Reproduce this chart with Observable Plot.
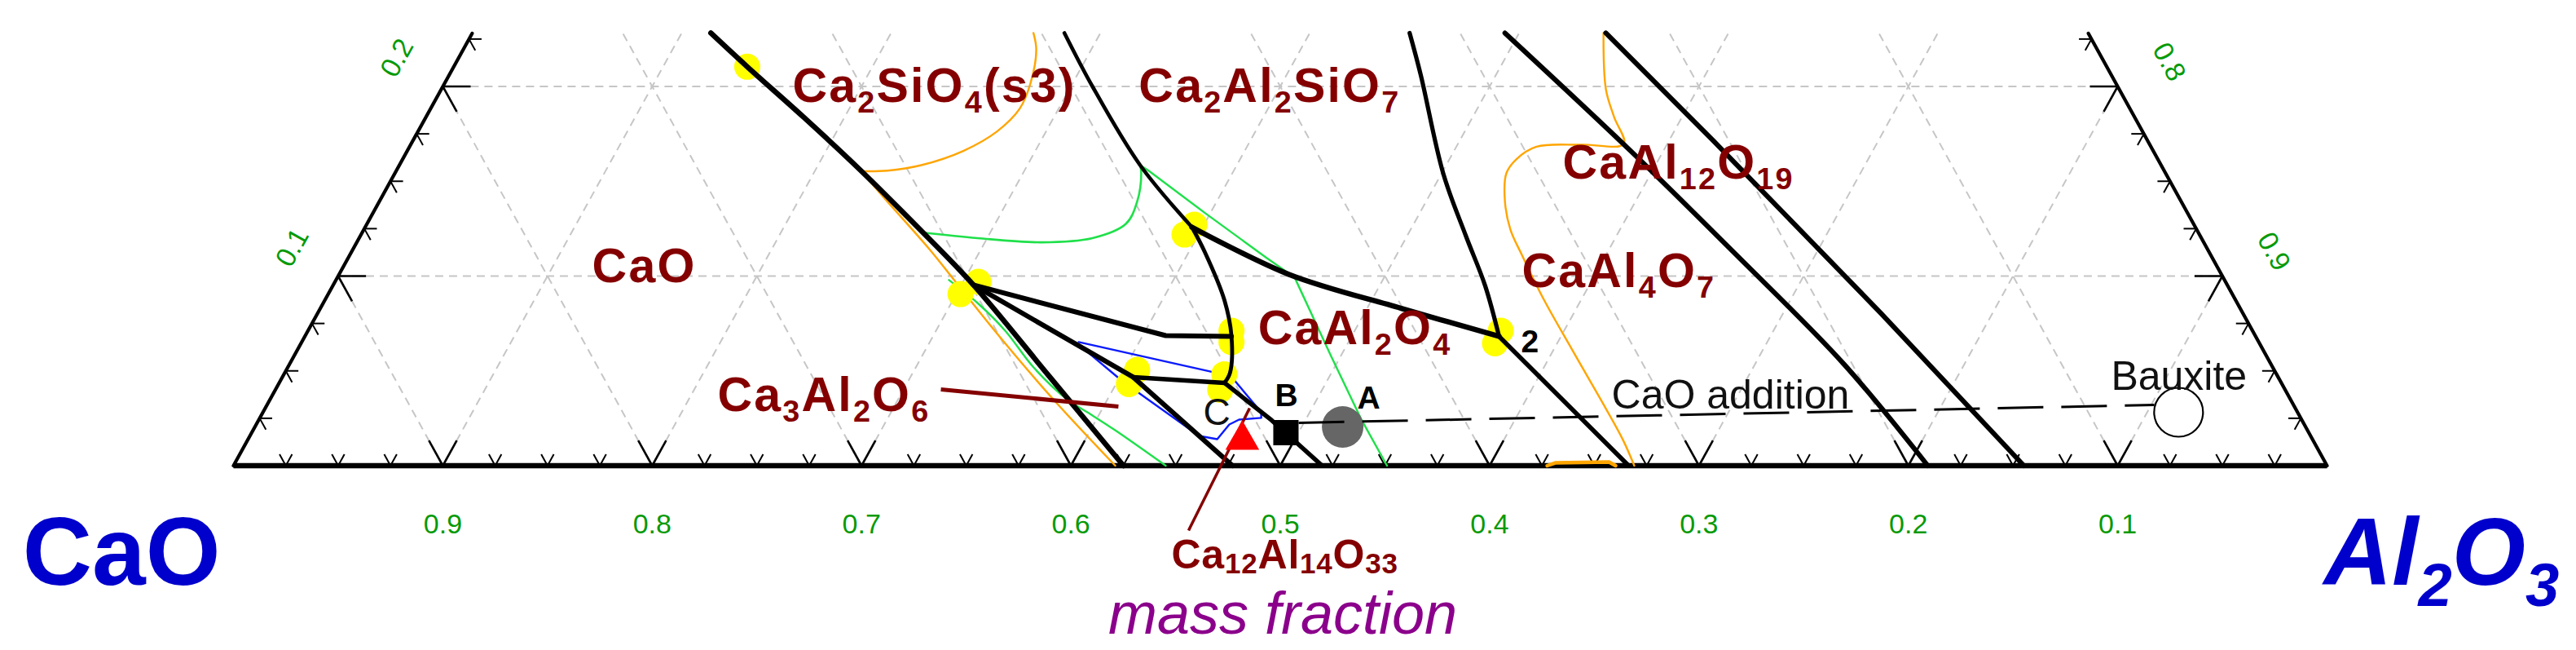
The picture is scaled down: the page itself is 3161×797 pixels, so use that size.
<!DOCTYPE html>
<html><head><meta charset="utf-8">
<script src="https://cdn.jsdelivr.net/npm/d3@7"></script>
<script src="https://cdn.jsdelivr.net/npm/@observablehq/plot@0.6"></script>
<style>html,body{margin:0;padding:0;background:#fff;} svg{display:block}</style>
</head><body><div id="chart"></div>
<script>
// ===== DATA: ternary points as [Al2O3, SiO2] mass fractions (CaO = 1 - Al2O3 - SiO2) =====
const sTop = 0.228;                       // SiO2 cut-off of the displayed window
const gridLevels = [0.1,0.2,0.3,0.4,0.5,0.6,0.7,0.8,0.9];
const bottomTickLabels = ["0.9","0.8","0.7","0.6","0.5","0.4","0.3","0.2","0.1"]; // CaO
const leftTickLabels = ["0.1","0.2"];     // SiO2
const rightTickLabels = ["0.9","0.8"];    // Al2O3

// thick phase boundaries
const bCaO_Ca2SiO4 = [[0.1139,0.2282],[0.1402,0.2104],[0.1806,0.1837],[0.2219,0.1556],[0.2636,0.1260],[0.3058,0.0953],[0.3654,0.0477],[0.4251,0]];
const bUpperCA = [[0.3058,0.0953],[0.4110,0.0686],[0.4426,0.0682]];
const bMidC3A = [[0.3058,0.0953],[0.4064,0.0467],[0.4772,0]];
const bGehlenite = [[0.2828,0.2282],[0.3103,0.2000],[0.3538,0.1585],[0.3949,0.1258]];
const bCA_curve = [[0.3949,0.1258],[0.4076,0.1127],[0.4296,0.0874],[0.4426,0.0682],[0.4515,0.0490],[0.4515,0.0437]];
const bCA_CA2 = [[0.3949,0.1258],[0.4537,0.1009],[0.5163,0.0830],[0.5704,0.0682]];
const bC12A7 = [[0.4064,0.0467],[0.4515,0.0437]];
const bC12A7low = [[0.4515,0.0437],[0.4840,0.0239],[0.5200,0]];
const bCA2low = [[0.5704,0.0682],[0.6664,0]];
const bCA2up = [[0.4477,0.2282],[0.4642,0.2059],[0.5008,0.1541],[0.5278,0.1215],[0.5505,0.0948],[0.5704,0.0682]];
const bCA6 = [[0.4932,0.2282],[0.5841,0.1662],[0.6622,0.1112],[0.7424,0.0536],[0.8093,0]];
const bAl2O3 = [[0.5414,0.2282],[0.6206,0.1718],[0.7470,0.0802],[0.8552,0]];

// thin isotherms
const orange1 = [[0.2680,0.2282],[0.2738,0.2193],[0.2799,0.2015],[0.2814,0.1882],[0.2766,0.1763],[0.2656,0.1660],[0.2493,0.1585],[0.2346,0.1556],[0.2221,0.1553]];
const orange2 = [[0.2221,0.1553],[0.2406,0.1409],[0.2753,0.1142],[0.2964,0.0970],[0.3280,0.0712],[0.3729,0.0359],[0.4212,0]];
const orange3 = [[0.5403,0.2282],[0.5563,0.1985],[0.5675,0.1839],[0.5792,0.1697],[0.5592,0.1693],[0.5383,0.1682],[0.5319,0.1615],[0.5309,0.1542],[0.5375,0.1396],[0.5477,0.1245],[0.5598,0.1112],[0.5822,0.0875],[0.6091,0.0609],[0.6350,0.0355],[0.6569,0.0136],[0.6691,0]];
const orange4 = [[0.6275,0],[0.6306,0.0015],[0.6561,0.0019],[0.6602,0]];
const green1 = [[0.2674,0.1230],[0.2954,0.1200],[0.3272,0.1178],[0.3503,0.1200],[0.3625,0.1275],[0.3620,0.1393],[0.3565,0.1542],[0.3538,0.1585]];
const green2 = [[0.3538,0.1585],[0.3593,0.1556],[0.3972,0.1334],[0.4385,0.1097],[0.4572,0.0993],[0.4953,0.0579],[0.5270,0.0239],[0.5510,0]];
const green3 = [[0.2928,0.0979],[0.3125,0.0858],[0.3330,0.0712],[0.3563,0.0518],[0.3813,0.0346],[0.3955,0.0273],[0.4118,0.0187],[0.4453,0]];
const blueLoop = [[0.3711,0.0652],[0.4415,0.0497],[0.4535,0.0467],[0.4768,0.0282],[0.4783,0.0252],[0.4682,0.0243],[0.4648,0.0217],[0.4629,0.0140],[0.4534,0.0157],[0.4024,0.0445],[0.3717,0.0639]];

// invariant points (yellow)
const invariantPts = [[0.1402,0.2104],[0.3073,0.0970],[0.3020,0.0905],[0.3954,0.1271],[0.3933,0.1219],[0.4411,0.0712],[0.4441,0.0652],[0.4064,0.0505],[0.4062,0.0430],[0.4492,0.0482],[0.4513,0.0400],[0.5697,0.0712],[0.5703,0.0645]];

// compositions
const pointC = [[0.4751,0.01355]];
const pointB = [[0.4940,0.01742]];
const pointA = [[0.5196,0.02043]];
const bauxite = [[0.9150,0.02817]];
const mixLine = [[0.4975,0.02258],[0.9015,0.03204]];

// label leaders
const leaderC3A = [[0.3178,0.0402],[0.4071,0.0312]];
const leaderC12A7 = [[0.4733,-0.0342],[0.4702,0.0303]];

// labels (anchor = left end of baseline)
const phaseLabels = [
  {text:"Ca_2SiO_4(s3)", p:[0.1710,0.1920]},
  {text:"Ca_2Al_2SiO_7", p:[0.3364,0.1920]},
  {text:"CaO", p:[0.1230,0.0966]},
  {text:"Ca_3Al_2O_6", p:[0.2167,0.0290]},
  {text:"CaAl_2O_4", p:[0.4574,0.0639]},
  {text:"CaAl_4O_7", p:[0.5684,0.0940]},
  {text:"CaAl_12O_19", p:[0.5591,0.1516]}
];
const c12a7Label = [{text:"Ca_12Al_14O_33", p:[0.4750,-0.0540]}];
const pointLabelsBold = [{text:"B", p:[0.4819,0.0312]},{text:"A", p:[0.5216,0.0303]},{text:"2", p:[0.5850,0.0600]}];
const pointLabelsPlain = [{text:"C", p:[0.4525,0.0215]}];
const noteLabels = [{text:"CaO addition", p:[0.6433,0.0299]},{text:"Bauxite", p:[0.8767,0.0402]}];

// ===== PROJECTION & DRAWING =====
const W = 3161, H = 797;
const px = d => d[0] + d[1] / 2;
const py = d => d[1];
const FONT = "Liberation Sans, Arial, Helvetica, sans-serif";

const gridLines = [];
for (const v of gridLevels) {
  const sEnd = Math.min(sTop, 1 - v);
  gridLines.push([[v,0],[v,sEnd]]);
  gridLines.push([[1-v,0],[1-v-sEnd,sEnd]]);
  if (v <= sTop) gridLines.push([[0,v],[1-v,v]]);
}
const tickSteps = d3.range(1, 40).map(i => i / 40);
const ticks = [];
for (const t of tickSteps) {
  const major = Math.abs(t * 10 - Math.round(t * 10)) < 1e-6;
  const L = major ? 0.0133 : 0.006;
  ticks.push({seg:[[t,0],[t,L]], major});
  ticks.push({seg:[[t,0],[t-L,L]], major});
  if (t <= sTop) {
    ticks.push({seg:[[0,t],[L,t]], major});
    ticks.push({seg:[[0,t],[L,t-L]], major});
    ticks.push({seg:[[1-t,t],[1-t-L,t]], major});
    ticks.push({seg:[[1-t,t],[1-t,t-L]], major});
  }
}
const seg = (data, opts) => Plot.link(data, {x1: d => px(d.seg ? d.seg[0] : d[0]), y1: d => py(d.seg ? d.seg[0] : d[0]), x2: d => px(d.seg ? d.seg[1] : d[1]), y2: d => py(d.seg ? d.seg[1] : d[1]), ...opts});
const line = (data, stroke, strokeWidth, curve = "linear", extra = {}) =>
  Plot.line(data, {x: px, y: py, stroke, strokeWidth, curve, strokeLinejoin: "round", strokeLinecap: "round", ...extra});
const txt = (data, opts) => Plot.text(data, {x: d => px(d.p), y: d => py(d.p), text: "text", fontFamily: FONT, ...opts});

const ORANGE = "#ffa500", GREEN = "#1fe04a", BLUE = "#0a1aff", DARKRED = "#840000";

const chart = Plot.plot({
  width: W, height: H,
  marginTop: 0, marginRight: 0, marginBottom: 0, marginLeft: 0,
  x: {domain: [-286/2569, (W-286)/2569], axis: null},
  y: {domain: [-(H-570.5)/2325, 570.5/2325], axis: null},
  style: {background: "white", overflow: "visible"},
  marks: [
    seg(gridLines, {stroke: "#c6c6c6", strokeWidth: 2, strokeDasharray: "10,7"}),
    seg(ticks.filter(d => d.major), {stroke: "black", strokeWidth: 2.6}),
    seg(ticks.filter(d => !d.major), {stroke: "black", strokeWidth: 2}),
    line([[0,sTop],[0,0]], "black", 4.2),
    line([[1,0],[1-sTop,sTop]], "black", 4.2),
    line([[0,0],[1,0]], "black", 6.5, "linear", {strokeLinecap: "butt"}),
    line(orange1, ORANGE, 2.4, "catmull-rom"),
    line(orange2, ORANGE, 2.4, "catmull-rom"),
    line(orange3, ORANGE, 2.4, "catmull-rom"),
    line(green1, GREEN, 2.6, "catmull-rom"),
    line(green2, GREEN, 2.4),
    line(green3, GREEN, 2.4, "catmull-rom"),
    line(blueLoop, BLUE, 2.4),
    Plot.dot(invariantPts, {x: px, y: py, r: 16, fill: "#ffff00"}),
    line(bCaO_Ca2SiO4, "black", 6.5, "catmull-rom"),
    line(bUpperCA, "black", 6),
    line(bMidC3A, "black", 6),
    line(bGehlenite, "black", 4.6, "catmull-rom"),
    line(bCA_curve, "black", 4.8, "catmull-rom"),
    line(bCA_CA2, "black", 6.5, "catmull-rom"),
    line(bC12A7, "black", 5.5),
    line(bC12A7low, "black", 5.5),
    line(bCA2low, "black", 5.5),
    line(bCA2up, "black", 5.2, "catmull-rom"),
    line(bCA6, "black", 6, "catmull-rom"),
    line(bAl2O3, "black", 6),
    line(orange4, ORANGE, 4.5),
    line(leaderC3A, DARKRED, 5, "linear", {strokeLinecap: "butt"}),
    line(leaderC12A7, DARKRED, 3.5, "linear", {strokeLinecap: "butt"}),
    Plot.dot(pointC, {x: px, y: py, symbol: "triangle", r: 15.4, fill: "#ff0000"}),
    Plot.dot(pointB, {x: px, y: py, symbol: "square", r: 17.5, fill: "black"}),
    Plot.dot(pointA, {x: px, y: py, r: 25.5, fill: "#666666"}),
    line(mixLine, "black", 3, "linear", {strokeDasharray: "56,22", strokeLinecap: "butt"}),
    Plot.dot(bauxite, {x: px, y: py, r: 30, fill: "white", stroke: "black", strokeWidth: 2.2}),
    // labels
    txt(phaseLabels, {textAnchor: "start", lineAnchor: "bottom", fontSize: 59, fontWeight: "bold", fill: DARKRED}),
    txt(c12a7Label, {textAnchor: "start", lineAnchor: "bottom", fontSize: 50, fontWeight: "bold", fill: DARKRED}),
    txt(pointLabelsBold, {textAnchor: "start", lineAnchor: "bottom", fontSize: 39, fontWeight: "bold", fill: "black"}),
    txt(pointLabelsPlain, {textAnchor: "start", lineAnchor: "bottom", fontSize: 46, fill: "#111"}),
    txt(noteLabels, {textAnchor: "start", lineAnchor: "bottom", fontSize: 50, fill: "#111"}),
    // axis tick labels
    Plot.text(bottomTickLabels, {x: d => 1 - (+d), y: () => 0, text: d => d, dy: 82.5, lineAnchor: "bottom", textAnchor: "middle", fontSize: 34, fontFamily: FONT, fill: "#079a07"}),
    Plot.text(leftTickLabels, {x: d => (+d) / 2, y: d => +d, text: d => d, dx: -56, dy: -35, rotate: -61, textAnchor: "middle", lineAnchor: "middle", fontSize: 34, fontFamily: FONT, fill: "#079a07"}),
    Plot.text(rightTickLabels, {x: d => (+d) + (1 - d) / 2, y: d => 1 - d, text: d => d, dx: 63, dy: -30, rotate: 61, textAnchor: "middle", lineAnchor: "middle", fontSize: 34, fontFamily: FONT, fill: "#079a07"}),
    // corner / axis titles
    txt([{text: "CaO", p: [0,0]}], {textAnchor: "end", lineAnchor: "bottom", dx: -16, dy: 146, fontSize: 118, fontWeight: "bold", fill: "#0000cc"}),
    txt([{text: "Al_2O_3", p: [1,0]}], {textAnchor: "start", lineAnchor: "bottom", dx: -4, dy: 146, fontSize: 116, fontWeight: "bold", fontStyle: "italic", fill: "#0000cc"}),
    txt([{text: "mass fraction", p: [0.5,0]}], {textAnchor: "middle", lineAnchor: "bottom", dx: 3, dy: 206, fontSize: 72, fontStyle: "italic", fill: "#8b008b"})
  ]
});
document.getElementById("chart").append(chart);

// phase-label letter spacing and chemical-formula subscripts ("_12" -> subscript tspan)
d3.select(chart).selectAll("text").each(function () {
  const cs = getComputedStyle(this);
  const fs = parseFloat(cs.fontSize);
  if (cs.fill === "rgb(132, 0, 0)") this.setAttribute("letter-spacing", fs > 55 ? "2.2px" : "0.8px");
  const raw = this.textContent;
  if (!raw.includes("_")) return;
  const ratio = fs < 55 ? 0.7 : 0.64;
  const shift = fs * (fs < 55 ? 0.13 : 0.22);
  this.textContent = "";
  let offset = 0;
  raw.split(/_(\d+)/).forEach((part, i) => {
    if (!part) return;
    const ts = document.createElementNS("http://www.w3.org/2000/svg", "tspan");
    ts.textContent = part;
    if (i % 2 === 1) { ts.setAttribute("font-size", fs * ratio); ts.setAttribute("dy", shift - offset); offset = shift; }
    else { if (offset) ts.setAttribute("dy", -offset); offset = 0; }
    this.appendChild(ts);
  });
});
</script></body></html>
